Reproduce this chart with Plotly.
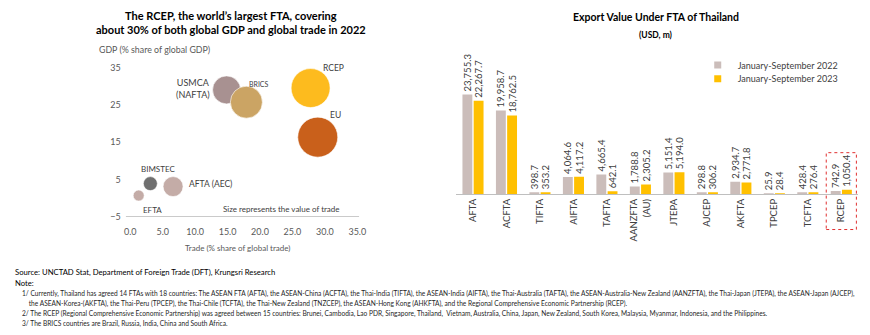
import plotly.graph_objects as go

W, H = 870, 335
FONT = "Lato"

# ---------------- Data: bubble chart ----------------
blocs = ["USMCA (NAFTA)", "BRICS", "RCEP", "EU", "BIMSTEC", "AFTA (AEC)", "EFTA"]
trade_share = [14.85, 17.9, 27.8, 28.9, 3.1, 6.6, 1.3]      # % share of global trade
gdp_share = [29.1, 25.8, 29.6, 16.4, 3.9, 3.1, 0.7]          # % share of global GDP
trade_value_size = [28, 32, 39, 40, 14, 20, 11]              # bubble diameter ~ value of trade
bubble_colors = ["#A89191", "#CBA464", "#FDBB1E", "#C9601B", "#6F6F6F", "#C4ACA7", "#C4ACA7"]

# ---------------- Data: bar chart ----------------
fta = ["AFTA", "ACFTA", "TIFTA", "AIFTA", "TAFTA", "AANZFTA<br>(AU)", "JTEPA",
       "AJCEP", "AKFTA", "TPCEP", "TCFTA", "RCEP"]
exp_2022 = [23755.3, 19958.7, 398.7, 4064.6, 4665.4, 1788.8, 5151.4, 298.8, 2934.7, 25.9, 428.4, 742.9]
exp_2023 = [22267.7, 18762.5, 353.2, 4117.2, 642.1, 2305.2, 5194.0, 306.2, 2771.8, 28.4, 276.4, 1050.4]
series_names = ["January-September 2022", "January-September 2023"]
x_ticks = [0, 5, 10, 15, 20, 25, 30, 35]
y_ticks = [-5, 5, 15, 25, 35]


def px_x(p):
    return p / W


def px_y(p):
    return (H - p) / H


fig = go.Figure()

for i in range(len(blocs)):
    fig.add_trace(go.Scatter(
        x=[trade_share[i]], y=[gdp_share[i]], mode="markers", name=blocs[i],
        marker=dict(size=trade_value_size[i], color=bubble_colors[i], line=dict(width=0.6, color="white")),
        xaxis="x", yaxis="y", showlegend=False, hoverinfo="skip"))

fmt = lambda v: f"{v:,.1f}"
bar_colors = ["#CBBDBA", "#FFC000"]
legend_ids = ["legend", "legend2"]
for name, vals, col, lg in zip(series_names, [exp_2022, exp_2023], bar_colors, legend_ids):
    fig.add_trace(go.Bar(
        x=fta, y=vals, name=name, marker=dict(color=col, line=dict(width=0)),
        text=[fmt(v) for v in vals], textposition="outside", textangle=-90,
        textfont=dict(size=9.5, color="#404040", family=FONT),
        constraintext="none", cliponaxis=False, showlegend=False,
        xaxis="x2", yaxis="y2"))
    # legend proxy with small square swatch
    fig.add_trace(go.Scatter(
        x=[None], y=[None], mode="markers", name=name, legend=lg,
        marker=dict(symbol="square", size=7, color=col),
        xaxis="x2", yaxis="y2", showlegend=True))

# layout geometry
x_lo, x_hi = -0.7, 35.3
y_lo, y_hi = -5, 37
left_x0, left_x1 = 125, 361
left_ybot = 220
ppu = (left_ybot - 69) / 40.0
left_ytop = left_ybot - (y_hi - y_lo) * ppu

bar_base, bar_top_px = 197, 55
scale = (bar_base - 96) / max(exp_2022)
bar_max = (bar_base - bar_top_px) / scale

leg_common = dict(xanchor="left", yanchor="middle", font=dict(size=9, color="#404040"),
                  bgcolor="rgba(0,0,0,0)", itemwidth=30)

fig.update_layout(
    width=W, height=H, margin=dict(l=0, r=0, t=0, b=0),
    paper_bgcolor="white", plot_bgcolor="white",
    font=dict(family=FONT, color="#404040"),
    barmode="group", bargap=0.33, bargroupgap=0.12,
    xaxis=dict(domain=[px_x(left_x0), px_x(left_x1)], range=[x_lo, x_hi], tickvals=x_ticks,
               ticktext=[f"{v:.1f}" for v in x_ticks], showgrid=False, zeroline=False,
               showline=False, tickfont=dict(size=9, color="#595959"), anchor="y",
               ticklabelstandoff=8),
    yaxis=dict(domain=[px_y(left_ybot), px_y(left_ytop)], range=[y_lo, y_hi], tickvals=y_ticks,
               showgrid=False, zeroline=False, showline=False,
               tickfont=dict(size=9, color="#595959"), anchor="x", ticklabelstandoff=4),
    xaxis2=dict(domain=[px_x(459), px_x(865)], showgrid=False, showline=True, linecolor="#BFBFBF",
                linewidth=1, tickangle=-90, tickfont=dict(size=9.5, color="#404040"),
                anchor="y2", ticks=""),
    yaxis2=dict(domain=[px_y(bar_base), px_y(bar_top_px)], range=[0, bar_max], visible=False,
                anchor="x2"),
    legend=dict(x=px_x(703), y=px_y(66), **leg_common),
    legend2=dict(x=px_x(703), y=px_y(80), **leg_common),
)

fig.add_shape(type="line", xref="x", yref="y", x0=x_lo, x1=x_hi, y0=-5, y1=-5,
              line=dict(color="#A6A6A6", width=1))

fig.add_shape(type="rect", xref="x2", yref="paper", x0=10.55, x1=11.45,
              y0=px_y(233), y1=px_y(155), line=dict(color="#E03030", width=1, dash="dot"))

ann = []


def A(text, x, y, size, bold=False, xanchor="center", color="#404040", align="center"):
    ann.append(dict(text=f"<b>{text}</b>" if bold else text, x=px_x(x), y=px_y(y),
                    xref="paper", yref="paper", showarrow=False, xanchor=xanchor,
                    yanchor="middle", align=align, font=dict(size=size, color=color, family=FONT)))


A("The RCEP, the world’s largest FTA, covering<br>about 30% of both global GDP and global trade in 2022",
  231, 23, 11, bold=True, color="#000000")
A("GDP (% share of global GDP)", 96, 50, 8.8, xanchor="left", color="#595959")
A("Trade (% share of global trade)", 238, 252, 8, color="#595959")
A("Size represents the value of trade", 221, 212, 8, xanchor="left", color="#404040")

A("USMCA<br>(NAFTA)", 212, 90, 9, xanchor="right", align="center")
A("BRICS", 248, 85, 7, xanchor="left")
A("RCEP", 322, 69, 8.5, xanchor="left")
A("EU", 329, 117, 8.5, xanchor="left")
A("BIMSTEC", 138, 172, 8, xanchor="left")
A("AFTA (AEC)", 187, 187, 8.5, xanchor="left")
A("EFTA", 140, 213, 8, xanchor="left")

A("Export Value Under FTA of Thailand", 661, 17, 10.5, bold=True, color="#000000")
A("(USD, m)", 661, 36, 8.5, bold=True, color="#000000")

A("Source: UNCTAD Stat, Department of Foreign Trade (DFT), Krungsri Research", 11, 276, 7.7, xanchor="left", color="#000000")
A("Note:", 11, 287, 7.7, xanchor="left", color="#000000")
notes = [
    "1/ Currently, Thailand has agreed 14 FTAs with 18 countries: The ASEAN FTA (AFTA), the ASEAN-China (ACFTA), the Thai-India (TIFTA), the ASEAN-India (AIFTA), the Thai-Australia (TAFTA), the ASEAN-Australia-New Zealand (AANZFTA), the Thai-Japan (JTEPA), the ASEAN-Japan (AJCEP),",
    "    the ASEAN-Korea-(AKFTA), the Thai-Peru (TPCEP), the Thai-Chile (TCFTA), the Thai-New Zealand (TNZCEP), the ASEAN-Hong Kong (AHKFTA), and the Regional Comprehensive Economic Partnership (RCEP).",
    "2/ The RCEP (Regional Comprehensive Economic Partnership) was agreed between 15 countries: Brunei, Cambodia, Lao PDR, Singapore, Thailand,  Vietnam, Australia, China, Japan, New Zealand, South Korea, Malaysia, Myanmar, Indonesia, and the Philippines.",
    "3/ The BRICS countries are Brazil, Russia, India, China and South Africa.",
]
for k, t in enumerate(notes):
    A(t.replace("  ", "&nbsp;&nbsp;"), 18, 298 + 10 * k, 6.6, xanchor="left", color="#262626")

fig.update_layout(annotations=ann)
fig.write_html("out.html")
